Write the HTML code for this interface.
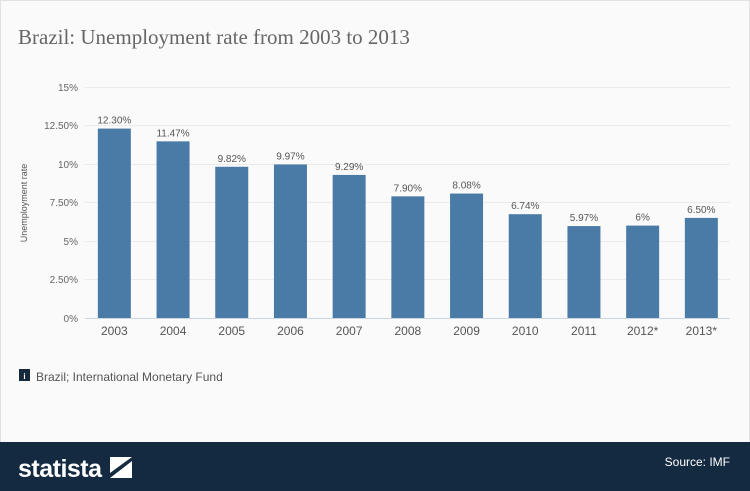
<!DOCTYPE html>
<html><head><meta charset="utf-8"><style>
body{margin:0;width:750px;height:491px;overflow:hidden;background:#fafafa;font-family:"Liberation Sans",sans-serif}
</style></head><body>
<svg width="750" height="491" xmlns="http://www.w3.org/2000/svg" style="position:absolute;left:0;top:0">
<rect x="0.5" y="0.5" width="749" height="490" fill="#fafafa" stroke="#e2e2e2"/>
<text x="18" y="44" font-family="Liberation Serif,serif" font-size="21" fill="#666">Brazil: Unemployment rate from 2003 to 2013</text>
<g stroke="#ebebeb" stroke-width="1">
<line x1="85" x2="730" y1="87.5" y2="87.5"/><line x1="85" x2="730" y1="125.5" y2="125.5"/>
<line x1="85" x2="730" y1="164.5" y2="164.5"/><line x1="85" x2="730" y1="202.5" y2="202.5"/>
<line x1="85" x2="730" y1="241.5" y2="241.5"/><line x1="85" x2="730" y1="279.5" y2="279.5"/>
</g>
<line x1="85" x2="730" y1="318.5" y2="318.5" stroke="#ccd6e0"/>
<g font-size="10" fill="#666" text-anchor="end">
<text x="78" y="91">15%</text><text x="78" y="129">12.50%</text><text x="78" y="168">10%</text>
<text x="78" y="206">7.50%</text><text x="78" y="245">5%</text><text x="78" y="283">2.50%</text><text x="78" y="322">0%</text>
</g>
<text transform="translate(27,203) rotate(-90)" font-size="9" fill="#555" text-anchor="middle">Unemployment rate</text>
<g id="bars" fill="#4a7ba7"></g>
<g id="lbl" font-size="10" fill="#555" text-anchor="middle"></g>
<g id="xl" font-size="12" fill="#555" text-anchor="middle"></g>
<rect x="19" y="369" width="11" height="12" fill="#16283c"/>
<text x="24.5" y="379" font-size="8" fill="#fff" text-anchor="middle" font-weight="bold">i</text>
<text x="36" y="381" font-size="12" fill="#555">Brazil; International Monetary Fund</text>
<rect x="0" y="442" width="750" height="49" fill="#142a40"/>
<text x="18" y="477" font-size="25" font-weight="bold" fill="#fff" letter-spacing="-0.5">statista</text>
<path d="M110 457h22l-22 16z M132 461v17h-22z" fill="#fff"/>
<text x="730" y="466" font-size="12" fill="#fff" text-anchor="end">Source: IMF</text>
</svg>
<script>
var v=[12.30,11.47,9.82,9.97,9.29,7.90,8.08,6.74,5.97,6,6.50],
l=["12.30%","11.47%","9.82%","9.97%","9.29%","7.90%","8.08%","6.74%","5.97%","6%","6.50%"],
y=["2003","2004","2005","2006","2007","2008","2009","2010","2011","2012*","2013*"],ns="http://www.w3.org/2000/svg";
for(var i=0;i<11;i++){var c=85+29.35+58.7*i,h=v[i]*15.4,t=318-h;
var r=document.createElementNS(ns,"rect");r.setAttribute("x",c-16.5);r.setAttribute("y",t);r.setAttribute("width",33);r.setAttribute("height",h);document.getElementById("bars").appendChild(r);
var a=document.createElementNS(ns,"text");a.setAttribute("x",c);a.setAttribute("y",t-5);a.textContent=l[i];document.getElementById("lbl").appendChild(a);
var b=document.createElementNS(ns,"text");b.setAttribute("x",c);b.setAttribute("y",335);b.textContent=y[i];document.getElementById("xl").appendChild(b);}
</script>
</body></html>
